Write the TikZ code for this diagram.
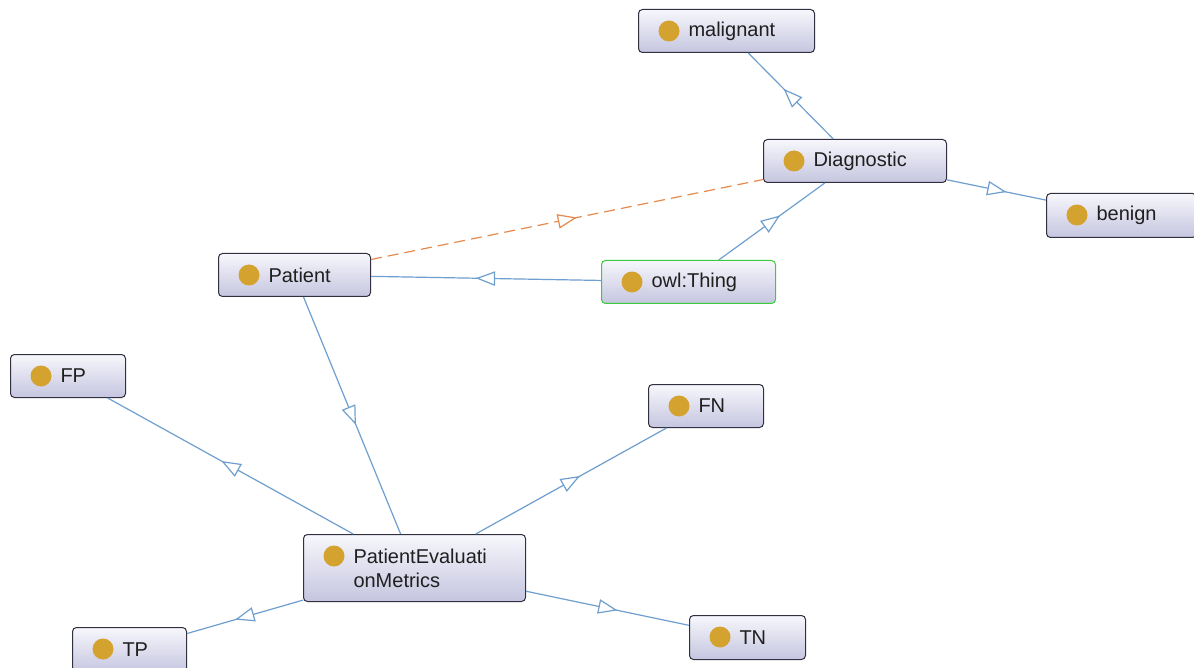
\documentclass[tikz,border=0pt]{standalone}
\usepackage{fontspec}
\setmainfont{Liberation Sans}
\usetikzlibrary{decorations.markings}

\definecolor{edgeblue}{HTML}{6F9FCF}
\definecolor{dashorange}{HTML}{E58A4E}
\definecolor{dotgold}{HTML}{D4A22E}
\definecolor{boxline}{HTML}{303040}
\definecolor{boxtop}{HTML}{F7F7FC}
\definecolor{boxbottom}{HTML}{C5C5E0}
\definecolor{thinggreen}{HTML}{3ACC3A}

\tikzset{
  cls/.style={draw=boxline, line width=1pt, rounded corners=4pt,
    top color=boxtop, bottom color=boxbottom, anchor=north west,
    inner xsep=0pt, inner ysep=0pt, align=left, text=black!88,
    font=\fontsize{20}{24}\selectfont,
    path picture={\fill[dotgold]
      ([xshift=30.5pt,yshift=-21.5pt]path picture bounding box.north west)
      circle (10.5pt);}},
  box/.style n args={3}{cls, minimum width=#1, minimum height=#2, text width=#3},
  midtri/.style={postaction={decorate}, decoration={markings,
    mark=at position 0.5 with {\draw[#1, solid, line width=1.2pt, fill=white]
      (8.5pt,0) -- (-8.5pt,6.5pt) -- (-8.5pt,-6.5pt) -- cycle;}}},
  isa/.style={draw=edgeblue, line width=1.2pt, midtri=edgeblue},
  rel/.style={draw=dashorange, line width=1.2pt, dash pattern=on 11pt off 6pt,
    midtri=dashorange},
}

\begin{document}
\begin{tikzpicture}[x=1pt, y=-1pt]
  \useasboundingbox[fill=white] (0,0) rectangle (1194,668);

  % class boxes
  \node[box={176pt}{43pt}{76pt}] (mal) at (638,9) {malignant};
  \node[box={183pt}{43pt}{83pt}] (diag) at (763,139) {Diagnostic};
  \node[box={150pt}{44pt}{50pt}] (ben) at (1046,193) {benign};
  \node[box={152pt}{43pt}{52pt}] (pat) at (218,253) {Patient};
  \node[box={174pt}{43pt}{74pt}, draw=thinggreen] (thing) at (601,260) {owl:Thing};
  \node[box={115pt}{43pt}{15pt}] (fp) at (10,354) {FP};
  \node[box={115pt}{43pt}{15pt}] (fn) at (648,384) {FN};
  \node[box={222pt}{67pt}{122pt}] (pem) at (303,534) {PatientEvaluati\\onMetrics};
  \node[box={114pt}{45pt}{14pt}] (tp) at (72,627) {TP};
  \node[box={116pt}{44pt}{16pt}] (tn) at (689,615) {TN};

  % subclass links
  \draw[isa] (diag) -- (mal);
  \draw[isa] (diag) -- (ben);
  \draw[isa] (thing) -- (diag);
  \draw[isa] (thing) -- (pat);
  \draw[isa] (pat) -- (pem);
  \draw[isa] (pem) -- (fp);
  \draw[isa] (pem) -- (fn);
  \draw[isa] (pem) -- (tp);
  \draw[isa] (pem) -- (tn);

  % object property link
  \draw[rel] (pat) -- (diag);
\end{tikzpicture}
\end{document}
